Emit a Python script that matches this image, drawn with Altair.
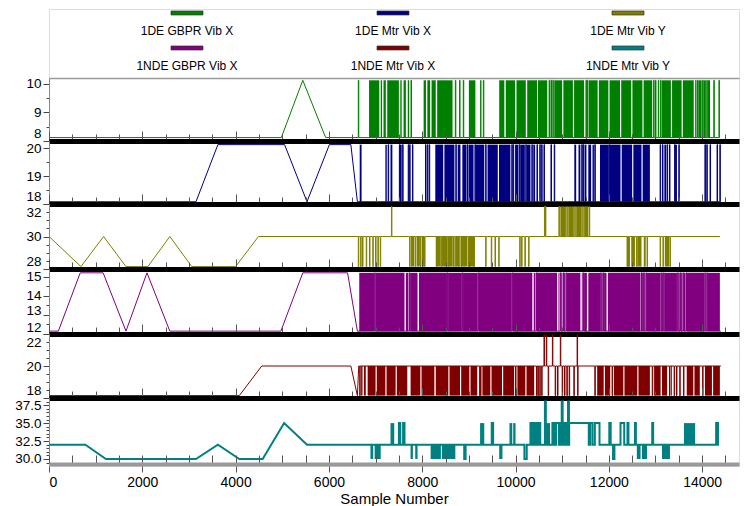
import altair as alt
import pandas as pd

FONT = "Liberation Sans"
X_MAX = 14790
VIEW_W = 690

# ---------------- legend ----------------
legend_names = ["1DE GBPR Vib X", "1DE Mtr Vib X", "1DE Mtr Vib Y",
                "1NDE GBPR Vib X", "1NDE Mtr Vib X", "1NDE Mtr Vib Y"]
legend_colors = ["#008000", "#000080", "#808000", "#800080", "#800000", "#008080"]
legend_col = [0, 1, 2, 0, 1, 2]
legend_row = [0, 0, 0, 1, 1, 1]

# ---------------- axis ticks ----------------
x_tick_values = [0, 500, 1000, 1500, 2000, 2500, 3000, 3500, 4000, 4500, 5000, 5500, 6000, 6500,
                 7000, 7500, 8000, 8500, 9000, 9500, 10000, 10500, 11000, 11500, 12000, 12500,
                 13000, 13500, 14000, 14500]
x_label_values = [0, 2000, 4000, 6000, 8000, 10000, 12000, 14000]
p1_ticks = [8, 8.5, 9, 9.5, 10]
p2_ticks = [18, 18.5, 19, 19.5, 20]
p3_ticks = [28, 28.5, 29, 29.5, 30, 30.5, 31, 31.5, 32]
p4_ticks = [12, 12.5, 13, 13.5, 14, 14.5, 15]
p5_ticks = [18, 18.5, 19, 19.5, 20, 20.5, 21, 21.5, 22]
p6_ticks = [29.5, 30, 30.5, 31, 31.5, 32, 32.5, 33, 33.5, 34, 34.5, 35, 35.5, 36, 36.5, 37, 37.5, 38, 38.5]

# ---------------- 1DE GBPR Vib X (green) ----------------
green_lo, green_hi = 8.12, 10.12
green_early_x = [0, 4980, 5440, 5930]
green_early_y = [8.12, 8.12, 10.12, 8.12]
green_spikes = [6630, 7760, 8710, 8800, 8880, 9310, 10720, 10760, 10800, 11510, 11540, 12960, 13000,
                13060, 13110, 13900, 14010, 14100, 14250, 14360]
green_blocks = [[6860, 7080], [7110, 7140], [7170, 7220], [7250, 7500], [7530, 7560], [7600, 7650],
                [7690, 7720], [8030, 8080], [8110, 8170], [8200, 8290], [8320, 8650], [9000, 9140],
                [9240, 9270], [9650, 9760], [9790, 9990], [10020, 10220], [10250, 10460],
                [10480, 10680], [10830, 11000], [11025, 11230], [11255, 11470], [11570, 11760],
                [11785, 11990], [12015, 12240], [12265, 12480], [12505, 12720], [12745, 12930],
                [13140, 13330], [13355, 13560], [13585, 13820], [13850, 13880], [13920, 13990],
                [14030, 14080], [14120, 14170]]
green_end = 14380

# ---------------- 1DE Mtr Vib X (blue) ----------------
blue_lo, blue_hi = 18.08, 20.12
blue_early_x = [0, 3150, 3620, 5050, 5530, 6010, 6470, 6610]
blue_early_y = [18.08, 18.08, 20.12, 20.12, 18.08, 20.12, 20.12, 18.08]
blue_spikes = [7270, 7510, 7580, 7700, 7730, 7790, 8070, 8110, 8150, 8720, 8960, 9130, 9360, 9920,
               9950, 10080, 10220, 10350, 10460, 10520, 10560, 10610, 10760, 10830, 11420, 11450,
               11700, 12010, 13100, 13150, 13250, 13300, 13410, 13500, 14060, 14100, 14170, 14320,
               14380]
blue_blocks = [[6660, 6700], [7210, 7240], [7320, 7360], [7520, 7560], [8280, 8450], [8475, 8690],
               [8760, 8820], [8860, 8940], [8990, 9100], [9150, 9330], [9400, 9620], [9645, 9890],
               [9990, 10060], [10100, 10200], [10240, 10320], [10380, 10420], [11260, 11300],
               [11350, 11390], [11480, 11520], [11560, 11620], [11650, 11680], [11810, 12000],
               [12025, 12250], [12275, 12500], [12525, 12700], [12725, 12880], [13190, 13230],
               [13420, 13460]]
blue_end = 14400

# ---------------- 1DE Mtr Vib Y (olive) ----------------
olive_base, olive_lo, olive_hi = 30, 28.15, 31.85
olive_early_x = [0, 685, 1170, 1650, 2120, 2590, 3060, 4000, 4490]
olive_early_y = [30, 28.15, 30, 28.15, 28.15, 30, 28.15, 28.15, 30]
olive_down_spikes = [6630, 6680, 6720, 6800, 6870, 6940, 7000, 7050, 7100, 7730, 7850, 7960,
                     8050, 8300, 8400, 8520, 8560, 8660, 8700, 8780, 8830, 8990, 9110, 9360, 9480,
                     9560, 9640, 10090, 10130, 10200, 10280, 12390, 12430, 12590, 12760, 12820,
                     13100, 13160, 13310]
olive_down_blocks = [[7760, 7830], [7880, 7950], [7990, 8040], [8300, 8390], [8420, 8510],
                     [8540, 8650], [8720, 8800], [8830, 8970], [9000, 9110], [12400, 12440],
                     [12480, 12560], [12610, 12700], [12760, 12790], [13200, 13290]]
olive_up_spikes = [7340, 10620, 10640, 10930, 11100, 11270, 11440, 11580]
olive_up_blocks = [[10960, 11080], [11130, 11250], [11300, 11420], [11470, 11560]]
olive_end = 14380

# ---------------- 1NDE GBPR Vib X (purple) ----------------
purple_lo, purple_hi = 12.15, 15.2
purple_early_x = [0, 200, 670, 1160, 1650, 2100, 2590, 4970, 5440, 6400, 6610]
purple_early_y = [12.15, 12.15, 15.2, 15.2, 12.15, 15.2, 12.15, 12.15, 15.2, 15.2, 12.15]
purple_spikes = [6980, 7720, 8540, 8860, 9200, 9930, 10440, 10960, 11020, 11080, 11455, 11825,
                 11885, 12690, 12745, 12795, 13115, 13175, 13475, 13535, 13595, 13655, 14055, 14100]
purple_blocks = [[6650, 6970], [6995, 7620], [7650, 7700], [7740, 7900], [7930, 8530], [8555, 8850],
                 [8875, 9190], [9215, 9920], [9945, 10360], [10390, 10420], [10460, 10890],
                 [10920, 10940], [10980, 11000], [11040, 11060], [11100, 11390], [11420, 11440],
                 [11470, 11530], [11560, 11810], [11840, 11870], [11900, 11950], [11980, 12670],
                 [12700, 12730], [12760, 12780], [12810, 13100], [13130, 13160], [13190, 13460],
                 [13490, 13520], [13550, 13580], [13610, 13640], [13670, 14040], [14070, 14090],
                 [14110, 14380]]
purple_end = 14400

# ---------------- 1NDE Mtr Vib X (maroon) ----------------
red_base, red_lo, red_hi = 20, 18.15, 21.95
red_early_x = [0, 4080, 4560, 6470, 6610, 6640]
red_early_y = [18.15, 18.15, 20, 20, 18.15, 20]
red_down_spikes = [6660, 9230, 9250, 10000, 10450, 10480, 10520, 10560, 10700, 10850, 10900, 11000,
                   11050, 11100, 11150, 11250, 11330, 11700, 12070, 12930, 13300, 13400, 13450,
                   13520, 13600, 14010]
red_down_blocks = [[6690, 6720], [6750, 6790], [6830, 7000], [7025, 7210], [7235, 7430], [7455, 7680],
                   [7750, 7960], [7985, 8260], [8290, 8560], [8585, 8810], [8835, 9010], [9035, 9180],
                   [9290, 9460], [9485, 9710], [9735, 9970], [10040, 10210], [10235, 10400],
                   [11750, 11890], [11915, 12030], [12110, 12310], [12335, 12610], [12635, 12880],
                   [12970, 13110], [13140, 13250], [13330, 13350], [13670, 13810], [13835, 13950],
                   [14060, 14210], [14235, 14380]]
red_up_spikes = [10610, 10660, 10790, 10960, 11320]
red_end = 14400

# ---------------- 1NDE Mtr Vib Y (teal) ----------------
teal_base = 32
teal_early_x = [0, 780, 1220, 3150, 3620, 4080, 4580, 5040, 5530]
teal_early_y = [32, 32, 30, 30, 32, 30, 30, 35, 32]
teal_bumps = [[7500, 7530, 35], [7590, 7620, 35], [8900, 8930, 30], [9490, 9520, 35],
              [10190, 10240, 30], [10320, 10350, 35], [10380, 10400, 35], [10430, 10460, 35],
              [10490, 10530, 35], [10630, 10650, 38], [10790, 10830, 35], [10870, 10930, 35],
              [10960, 10985, 35], [10990, 11010, 38], [11020, 11050, 35], [11080, 11120, 35],
              [11125, 11145, 38], [11150, 11570, 35], [11600, 11650, 35], [11700, 11800, 35],
              [12010, 12040, 35], [12090, 12120, 30], [12250, 12330, 35], [12400, 12420, 35],
              [12560, 12580, 35], [12930, 12950, 35], [14300, 14340, 35]]
teal_low_blocks = [[6890, 6950], [6980, 7110], [7750, 7800], [7850, 7900], [8180, 8400], [8420, 8710],
                   [9650, 9720], [12600, 12680], [12710, 12820], [13140, 13310]]
teal_high_blocks = [[7320, 7400], [9240, 9330], [9870, 9930], [9950, 10000], [10610, 10740],
                    [13610, 13850]]
teal_lo, teal_hi = 30, 35
teal_end = 14360


def build(early_x, early_y, base, end_x, spike_sets=(), block_sets=(), bumps=()):
    pts = list(zip(early_x, early_y))
    events = []
    for xs, lvl in spike_sets:
        events += [(x, x + 10, lvl) for x in xs]
    events += [tuple(b) for b in bumps]
    events.sort()
    for x0, x1, lvl in events:
        pts += [(x0, base), (x0, lvl), (x1, lvl), (x1, base)]
    pts.append((end_x, base))
    line_df = pd.DataFrame(pts, columns=["x", "y"])
    line_df["o"] = range(len(line_df))
    rects = []
    for bl, lvl in block_sets:
        rects += [(b[0], b[1], base, lvl) for b in bl]
    rect_df = pd.DataFrame(rects, columns=["x0", "x1", "y0", "y1"])
    return line_df, rect_df


xscale = alt.Scale(domain=[0, X_MAX], nice=False, zero=False)

inv_y_axis = alt.Axis(labels=False, ticks=False, domain=False, grid=False, title=None,
                      minExtent=38, maxExtent=38)


def top_axis(first):
    if first:
        return alt.Axis(orient="top", domainColor="#9a9a9a", domainWidth=1.5, ticks=False,
                        labels=False, title=None, grid=False)
    return alt.Axis(orient="top", values=x_tick_values, domainColor="black", domainWidth=5,
                    tickColor="#555555", tickWidth=1,
                    tickSize={"condition": {"test": "datum.value % 2000 === 0", "value": 10}, "value": 7},
                    labels=False, title=None, grid=False)


def left_axis(ticks, step, fmt, flush_off, label_offset):
    return alt.Axis(values=ticks,
                    labelExpr=f"datum.value % {step} === 0 ? format(datum.value, '{fmt}') : ''",
                    tickSize={"condition": {"test": f"datum.value % {step} === 0", "value": 6}, "value": 3},
                    tickColor="#444444", domainColor="#888888", labelColor="black",
                    labelFontSize=13.5, labelFont=FONT, labelFlush=True, labelFlushOffset=flush_off,
                    labelOffset=label_offset,
                    labelOverlap=False, labelPadding=2, grid=False, title=None,
                    minExtent=38, maxExtent=38)


def panel(line_df, rect_df, color, ydom, ticks, step, fmt, height, first=False, sw=1, flush_off=-1,
          label_offset=0):
    ys = alt.Scale(domain=ydom, nice=False, zero=False)
    xa = top_axis(first)
    ya = left_axis(ticks, step, fmt, flush_off, label_offset)
    line = alt.Chart(line_df).mark_line(color=color, strokeWidth=sw, clip=True).encode(
        x=alt.X("x:Q", scale=xscale, axis=xa),
        y=alt.Y("y:Q", scale=ys, axis=ya),
        order="o:Q",
    )
    layers = []
    if len(rect_df):
        rect = alt.Chart(rect_df).mark_rect(color=color, clip=True).encode(
            x=alt.X("x0:Q", scale=xscale, axis=xa),
            x2="x1:Q",
            y=alt.Y("y0:Q", scale=ys, axis=ya),
            y2="y1:Q",
        )
        layers.append(rect)
    layers.append(line)
    return alt.layer(*layers).properties(width=VIEW_W, height=height)


g_line, g_rect = build(green_early_x, green_early_y, green_lo, green_end,
                       [(green_spikes, green_hi)], [(green_blocks, green_hi)])
b_line, b_rect = build(blue_early_x, blue_early_y, blue_lo, blue_end,
                       [(blue_spikes, blue_hi)], [(blue_blocks, blue_hi)])
o_line, o_rect = build(olive_early_x, olive_early_y, olive_base, olive_end,
                       [(olive_down_spikes, olive_lo), (olive_up_spikes, olive_hi)],
                       [(olive_down_blocks, olive_lo), (olive_up_blocks, olive_hi)])
p_line, p_rect = build(purple_early_x, purple_early_y, purple_lo, purple_end,
                       [(purple_spikes, purple_hi)], [(purple_blocks, purple_hi)])
r_line, r_rect = build(red_early_x, red_early_y, red_base, red_end,
                       [(red_down_spikes, red_lo), (red_up_spikes, red_hi)],
                       [(red_down_blocks, red_lo)])
t_line, t_rect = build(teal_early_x, teal_early_y, teal_base, teal_end, [],
                       [(teal_low_blocks, teal_lo), (teal_high_blocks, teal_hi)], teal_bumps)

p1 = panel(g_line, g_rect, legend_colors[0], [8, 10.2], p1_ticks, 1, "d", 63, first=True)
p2 = panel(b_line, b_rect, legend_colors[1], [18, 20.25], p2_ticks, 1, "d", 63)
p3 = panel(o_line, o_rect, legend_colors[2], [28, 32], p3_ticks, 2, "d", 65)
p4 = panel(p_line, p_rect, legend_colors[3], [12, 15.4], p4_ticks, 1, "d", 65, flush_off=0,
           label_offset={"condition": {"test": "datum.value === 13", "value": -4}, "value": 0})
p5 = panel(r_line, r_rect, legend_colors[4], [18, 22], p5_ticks, 2, "d", 64)
p6 = panel(t_line, t_rect, legend_colors[5], [29.3, 38.5], p6_ticks, 2.5, ".1f", 66, sw=2)

# ---------------- legend chart ----------------
leg_df = pd.DataFrame({"name": legend_names, "col": legend_col, "row": legend_row})
lx = alt.X("col:Q", scale=alt.Scale(domain=[0, 1, 2], range=[138, 344, 579], nice=False, zero=False),
           axis=None)
ly = alt.Y("row:Q", scale=alt.Scale(domain=[-0.114, 1.857], nice=False, zero=False, reverse=True),
           axis=inv_y_axis)
swatch = alt.Chart(leg_df).mark_tick(orient="horizontal", size=32, thickness=4, stroke="#333333",
                                     strokeWidth=0.7, opacity=1).encode(
    x=lx, y=ly,
    color=alt.Color("name:N", scale=alt.Scale(domain=legend_names, range=legend_colors), legend=None),
)
leg_text = alt.Chart(leg_df).mark_text(dy=18, fontSize=12, font=FONT, color="black").encode(
    x=lx, y=ly, text="name:N")
legend = alt.layer(swatch, leg_text).properties(width=VIEW_W, height=69)

# ---------------- bottom axis chart ----------------
ax_df = pd.DataFrame({"x": [0, X_MAX], "y": [0, 1]})
a_top = alt.Chart(ax_df).mark_point(opacity=0).encode(
    x=alt.X("x:Q", scale=xscale,
            axis=alt.Axis(orient="top", values=x_tick_values, domainColor="#9a9a9a", domainWidth=4,
                          tickColor="#555555", tickSize=9, labels=False, title=None, grid=False)),
    y=alt.Y("y:Q", axis=inv_y_axis),
)
a_bot = alt.Chart(ax_df).mark_point(opacity=0).encode(
    x=alt.X("x:Q", scale=xscale,
            axis=alt.Axis(orient="bottom", values=x_label_values, domain=False, tickColor="#555555",
                          tickSize=6, labelFontSize=14, labelFont=FONT, labelColor="black",
                          labelPadding=3, format="d", title="Sample Number", titleFont=FONT,
                          titleFontSize=15, titleFontWeight="normal", titleColor="black",
                          titlePadding=2, grid=False)),
    y=alt.Y("y:Q", axis=inv_y_axis),
)
axis_chart = alt.layer(a_top, a_bot).resolve_axis(x="independent").properties(width=VIEW_W, height=2)

chart = alt.vconcat(legend, p1, p2, p3, p4, p5, p6, axis_chart, spacing=0, bounds="flush").properties(
    padding={"left": 2, "top": 0, "right": 0, "bottom": 0}
).configure_view(stroke=None).configure(background="white")

chart.save("out.html", embed_options={"renderer": "svg", "actions": False})
